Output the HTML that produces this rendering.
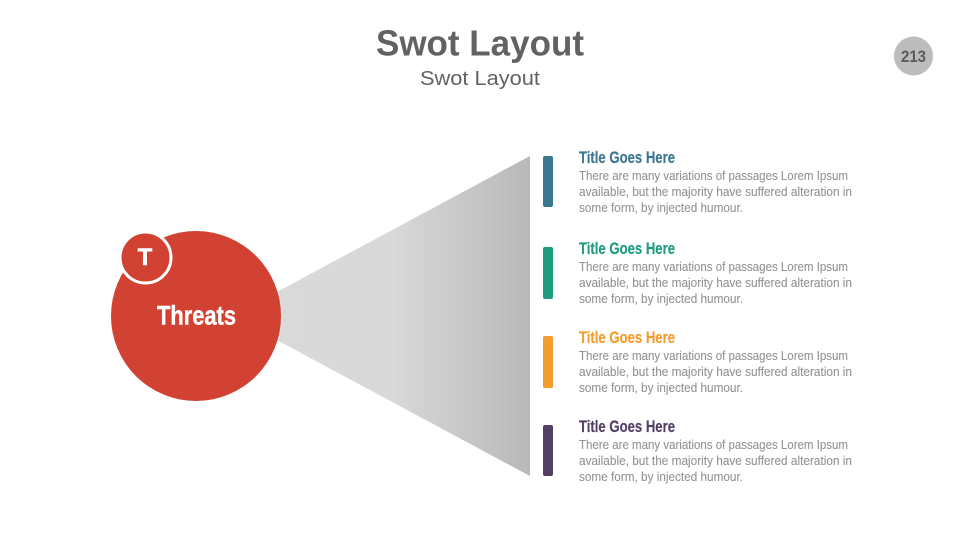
<!DOCTYPE html>
<html>
<head>
<meta charset="utf-8">
<style>
html,body{margin:0;padding:0;background:#fff}
svg{display:block}
.n{font-family:"Liberation Sans Narrow","Liberation Sans",sans-serif}
.s{font-family:"Liberation Sans",sans-serif}
.b{font-size:12.8px;fill:#939393;stroke:#939393;stroke-width:.1px}
.t{font-size:16.5px;font-weight:700;stroke-width:.2px}
</style>
</head>
<body>
<svg width="960" height="540" viewBox="0 0 960 540" xmlns="http://www.w3.org/2000/svg">
<defs>
<linearGradient id="g" gradientUnits="userSpaceOnUse" x1="255" y1="0" x2="530" y2="0">
<stop offset="0" stop-color="#dadada"/>
<stop offset="0.5" stop-color="#d8d8d8"/>
<stop offset="1" stop-color="#b8b8b8"/>
</linearGradient>
</defs>
<rect width="960" height="540" fill="#fff"/>

<text class="s" x="480" y="55.500" text-anchor="middle" font-size="36" font-weight="700" fill="#626262" textLength="208" lengthAdjust="spacingAndGlyphs">Swot Layout</text>
<text class="s" x="480" y="85" text-anchor="middle" font-size="20" fill="#626262" textLength="120" lengthAdjust="spacingAndGlyphs">Swot Layout</text>

<circle cx="913.500" cy="56" r="19.500" fill="#bcbcbc"/>
<text class="n" x="913.500" y="62" text-anchor="middle" font-size="17" font-weight="700" fill="#5a5a5a" textLength="25" lengthAdjust="spacingAndGlyphs">213</text>

<polygon points="232,316 530,156 530,476" fill="url(#g)"/>
<circle cx="196" cy="316" r="85" fill="#d24232"/>
<circle cx="145.500" cy="257.500" r="25.500" fill="#d24232" stroke="#fff" stroke-width="3"/>
<text class="n" x="145" y="265" text-anchor="middle" font-size="24" font-weight="700" fill="#fff" stroke="#fff" stroke-width=".5">T</text>
<text class="n" x="196.500" y="324.500" text-anchor="middle" font-size="27" font-weight="700" fill="#fff" stroke="#fff" stroke-width=".4" textLength="79" lengthAdjust="spacingAndGlyphs">Threats</text>

<rect x="543" y="156" width="10" height="51" rx="2" fill="#3c7792"/>
<rect x="543" y="247" width="10" height="52" rx="2" fill="#1f9c80"/>
<rect x="543" y="336" width="10" height="52" rx="2" fill="#f29d2e"/>
<rect x="543" y="425" width="10" height="51" rx="2" fill="#533f66"/>

<text class="n t" x="579" y="163" fill="#3c7792" stroke="#3c7792" textLength="96" lengthAdjust="spacingAndGlyphs">Title Goes Here</text>
<text class="n b" x="579" y="180" textLength="269" lengthAdjust="spacingAndGlyphs">There are many variations of passages Lorem Ipsum</text>
<text class="n b" x="579" y="196" textLength="273" lengthAdjust="spacingAndGlyphs">available, but the majority have suffered alteration in</text>
<text class="n b" x="579" y="212" textLength="164" lengthAdjust="spacingAndGlyphs">some form, by injected humour.</text>

<text class="n t" x="579" y="254" fill="#1f9c80" stroke="#1f9c80" textLength="96" lengthAdjust="spacingAndGlyphs">Title Goes Here</text>
<text class="n b" x="579" y="271" textLength="269" lengthAdjust="spacingAndGlyphs">There are many variations of passages Lorem Ipsum</text>
<text class="n b" x="579" y="287" textLength="273" lengthAdjust="spacingAndGlyphs">available, but the majority have suffered alteration in</text>
<text class="n b" x="579" y="303" textLength="164" lengthAdjust="spacingAndGlyphs">some form, by injected humour.</text>

<text class="n t" x="579" y="343" fill="#f29d2e" stroke="#f29d2e" textLength="96" lengthAdjust="spacingAndGlyphs">Title Goes Here</text>
<text class="n b" x="579" y="360" textLength="269" lengthAdjust="spacingAndGlyphs">There are many variations of passages Lorem Ipsum</text>
<text class="n b" x="579" y="376" textLength="273" lengthAdjust="spacingAndGlyphs">available, but the majority have suffered alteration in</text>
<text class="n b" x="579" y="392" textLength="164" lengthAdjust="spacingAndGlyphs">some form, by injected humour.</text>

<text class="n t" x="579" y="432" fill="#533f66" stroke="#533f66" textLength="96" lengthAdjust="spacingAndGlyphs">Title Goes Here</text>
<text class="n b" x="579" y="449" textLength="269" lengthAdjust="spacingAndGlyphs">There are many variations of passages Lorem Ipsum</text>
<text class="n b" x="579" y="465" textLength="273" lengthAdjust="spacingAndGlyphs">available, but the majority have suffered alteration in</text>
<text class="n b" x="579" y="481" textLength="164" lengthAdjust="spacingAndGlyphs">some form, by injected humour.</text>
</svg>
</body>
</html>
